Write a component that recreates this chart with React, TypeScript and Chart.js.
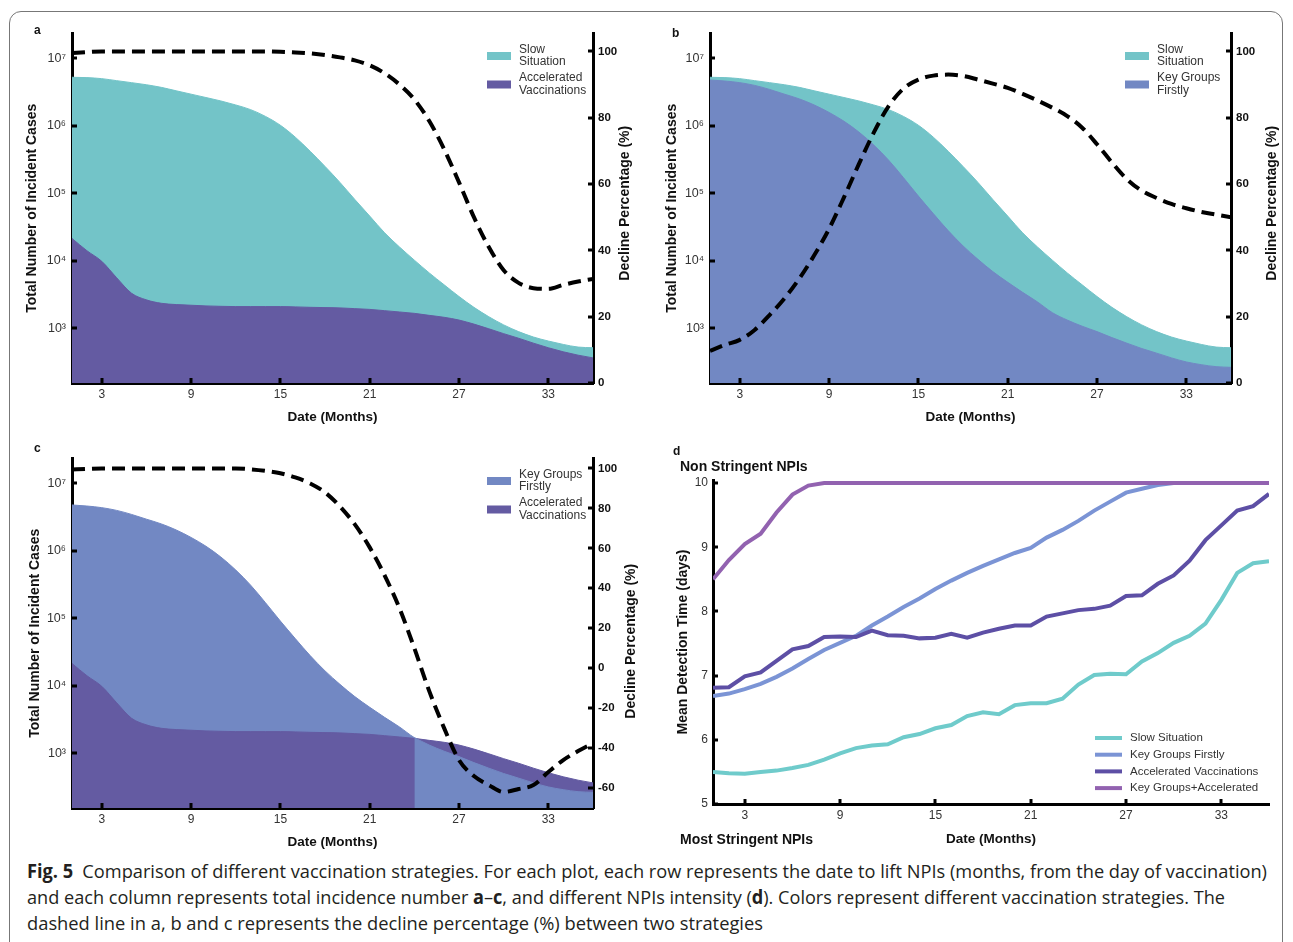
import React, { useEffect, useLayoutEffect, useRef } from 'react';
import { Chart, registerables } from 'chart.js';

Chart.register(...registerables);

const FONT = '"Liberation Sans", Arial, Helvetica, sans-serif';
Chart.defaults.font.family = FONT;

// ---------- data ----------
const months = [1, 2, 3, 4, 5, 6, 7, 8, 9, 10, 11, 12, 13, 14, 15, 16, 17, 18, 19, 20, 21, 22, 23, 24, 25, 26, 27, 28, 29, 30, 31, 32, 33, 34, 35, 36];

const slowCases = [5.25e6, 5.19e6, 5.01e6, 4.68e6, 4.37e6, 4.07e6, 3.72e6, 3.31e6, 2.95e6, 2.63e6, 2.34e6, 2.04e6, 1.74e6, 1.38e6, 1.02e6, 6.8e5, 4.2e5, 2.5e5, 1.45e5, 8.1e4, 4.6e4, 2.6e4, 1.6e4, 1.02e4, 6.6e3, 4.4e3, 2.95e3, 2.04e3, 1.48e3, 1.12e3, 890, 740, 645, 575, 525, 513];
const acceleratedCases = [2.14e4, 1.41e4, 9.8e3, 5.6e3, 3.3e3, 2.63e3, 2.34e3, 2.24e3, 2.19e3, 2.14e3, 2.11e3, 2.09e3, 2.09e3, 2.09e3, 2.09e3, 2.07e3, 2.04e3, 2.02e3, 2.0e3, 1.95e3, 1.9e3, 1.82e3, 1.74e3, 1.66e3, 1.55e3, 1.45e3, 1.32e3, 1.15e3, 980, 830, 710, 600, 513, 447, 398, 363];
const keyGroupsCases = [4.79e6, 4.62e6, 4.37e6, 3.98e6, 3.47e6, 2.95e6, 2.51e6, 2.04e6, 1.58e6, 1.17e6, 8.1e5, 5.2e5, 3.1e5, 1.7e5, 9.1e4, 5.0e4, 2.8e4, 1.66e4, 1.05e4, 6.9e3, 4.8e3, 3.4e3, 2.45e3, 1.7e3, 1.32e3, 1.07e3, 890, 725, 600, 500, 427, 363, 316, 288, 269, 263];

const declineA = [99.5, 99.8, 100, 100, 100, 100, 100, 100, 100, 100, 100, 100, 100, 100, 99.9, 99.7, 99.4, 98.9, 98.2, 97.3, 95.8, 93.4, 90, 85.5, 79, 70.5, 60.5, 50, 41, 34, 30.2, 28.6, 28.4, 29.6, 30.6, 31.4];
const declineB = [9.7, 11.5, 13, 16, 20.5, 25.5, 31.5, 38.5, 46.5, 56, 66, 75.5, 83.5, 88.8, 91.5, 92.7, 93, 92.6, 91.5, 90.3, 89, 87.2, 85.2, 83, 80.5, 77, 72, 66.5, 61.5, 58, 55.8, 54, 52.7, 51.6, 50.8, 50];
const declineC = [99.5, 99.8, 100, 100, 100, 100, 100, 100, 100, 100, 100, 100, 99.6, 98.8, 97.6, 95.5, 92.5, 88, 81, 72, 60.5, 46.5, 30, 10, -11.5, -30, -46, -54, -58.5, -62, -60.5, -58.5, -52, -46, -41.5, -37.5];

const detectSlow = [5.5, 5.48, 5.47, 5.5, 5.52, 5.56, 5.61, 5.69, 5.79, 5.87, 5.91, 5.93, 6.04, 6.09, 6.18, 6.23, 6.37, 6.43, 6.4, 6.54, 6.57, 6.57, 6.64, 6.86, 7.01, 7.03, 7.02, 7.22, 7.35, 7.51, 7.62, 7.81, 8.18, 8.6, 8.75, 8.78];
const detectKey = [6.68, 6.72, 6.79, 6.87, 6.98, 7.11, 7.26, 7.4, 7.51, 7.62, 7.78, 7.92, 8.07, 8.2, 8.35, 8.48, 8.6, 8.71, 8.81, 8.91, 8.99, 9.15, 9.27, 9.41, 9.57, 9.71, 9.85, 9.91, 9.97, 10, 10, 10, 10, 10, 10, 10];
const detectAcc = [6.81, 6.82, 6.99, 7.05, 7.23, 7.41, 7.46, 7.6, 7.61, 7.6, 7.7, 7.63, 7.62, 7.58, 7.59, 7.65, 7.59, 7.67, 7.73, 7.78, 7.78, 7.92, 7.97, 8.02, 8.04, 8.09, 8.24, 8.25, 8.43, 8.56, 8.79, 9.11, 9.34, 9.57, 9.64, 9.83];
const detectKeyAcc = [8.5, 8.8, 9.05, 9.21, 9.54, 9.82, 9.96, 10, 10, 10, 10, 10, 10, 10, 10, 10, 10, 10, 10, 10, 10, 10, 10, 10, 10, 10, 10, 10, 10, 10, 10, 10, 10, 10, 10, 10];

const monthTicks = [3, 9, 15, 21, 27, 33];
const logTicks = [1e3, 1e4, 1e5, 1e6, 1e7];
const logTickLabels = ['10³', '10⁴', '10⁵', '10⁶', '10⁷'];
const declineTicksAB = [0, 20, 40, 60, 80, 100];
const declineTicksC = [-60, -40, -20, 0, 20, 40, 60, 80, 100];
const detectTicks = [5, 6, 7, 8, 9, 10];

const LABEL_SLOW = 'Slow Situation';
const LABEL_KEY = 'Key Groups Firstly';
const LABEL_ACC = 'Accelerated Vaccinations';
const LABEL_KEYACC = 'Key Groups+Accelerated';
const TITLE_DECLINE = 'Decline Percentage (%)';

const C_TEAL = '#73c4c8';
const C_PURPLE = '#645ba2';
const C_BLUE = '#7288c3';
const L_TEAL = '#6fcbcb';
const L_BLUE = '#7b94d5';
const L_PURPLE = '#5d4fa5';
const L_PINK = '#9262b0';

// ---------- plugins ----------
const inwardTicks = {
  id: 'inwardTicks',
  afterDraw(chart: any) {
    const { ctx, chartArea: ca } = chart;
    ctx.save();
    ctx.strokeStyle = '#000';
    ctx.lineWidth = 3;
    for (const s of Object.values(chart.scales) as any[]) {
      for (const t of s.ticks) {
        const p = Math.round(s.getPixelForValue(t.value));
        ctx.beginPath();
        if (s.position === 'left') { ctx.moveTo(ca.left, p); ctx.lineTo(ca.left + 5, p); }
        else if (s.position === 'right') { ctx.moveTo(ca.right, p); ctx.lineTo(ca.right - 5, p); }
        else { ctx.moveTo(p, ca.bottom); ctx.lineTo(p, ca.bottom - 5); }
        ctx.stroke();
      }
    }
    ctx.restore();
  },
};

function rightTitle(text: string, cx: number, dy: number) {
  return {
    id: 'rightTitle',
    afterDraw(chart: any) {
      const { ctx, chartArea: ca } = chart;
      ctx.save();
      ctx.translate(cx, (ca.top + ca.bottom) / 2 + dy);
      ctx.rotate(-Math.PI / 2);
      ctx.font = `bold 14px ${FONT}`;
      ctx.fillStyle = '#111';
      ctx.textAlign = 'center';
      ctx.textBaseline = 'middle';
      ctx.fillText(text, 0, 0);
      ctx.restore();
    },
  };
}

function splitLabel(s: string): string[] {
  const i = s.lastIndexOf(' ');
  return [s.slice(0, i), s.slice(i + 1)];
}

function areaLegend(items: { label: string; color: string }[]) {
  return {
    id: 'areaLegend',
    afterDraw(chart: any) {
      const { ctx, chartArea: ca } = chart;
      ctx.save();
      ctx.font = `12px ${FONT}`;
      ctx.textBaseline = 'middle';
      ctx.textAlign = 'left';
      items.forEach((it, i) => {
        const cy = ca.top + 22.5 + i * 28.5;
        const x0 = ca.right - 106;
        ctx.fillStyle = it.color;
        ctx.fillRect(x0, cy - 4, 24, 8);
        ctx.fillStyle = '#333';
        splitLabel(it.label).forEach((ln, k) => ctx.fillText(ln, x0 + 32, cy - 6.5 + k * 12.5));
      });
      ctx.restore();
    },
  };
}

function lineLegend(items: { label: string; color: string }[]) {
  return {
    id: 'lineLegend',
    afterDraw(chart: any) {
      const { ctx, chartArea: ca } = chart;
      ctx.save();
      ctx.font = `11.5px ${FONT}`;
      ctx.textBaseline = 'middle';
      ctx.textAlign = 'left';
      items.forEach((it, i) => {
        const cy = ca.bottom - 66 + i * 16.7;
        ctx.strokeStyle = it.color;
        ctx.lineWidth = 4;
        ctx.beginPath();
        ctx.moveTo(ca.right - 174, cy);
        ctx.lineTo(ca.right - 147, cy);
        ctx.stroke();
        ctx.fillStyle = '#333';
        ctx.fillText(it.label, ca.right - 139, cy);
      });
      ctx.restore();
    },
  };
}

// ---------- builders ----------
type Area = { label: string; values: number[]; color: string; from?: number };
type CasesPanel = {
  areas: Area[]; // front to back
  legend: { label: string; color: string }[];
  decline: number[];
  declineTicks: number[];
  declineMin: number;
  declineMax: number;
  leftW: number;
  rightW: number;
  topPad: number;
  bottomH: number;
  leftTitlePad: number;
  rightTitleX: number;
  rightTitleDy: number;
  bottomTitlePad: number;
};

const pts = (vals: number[]) => months.map((m, i) => ({ x: m, y: vals[i] }));

const noGrid = { display: false, drawTicks: false, drawOnChartArea: false };

function xScale(bottomH: number, titlePad: number) {
  return {
    type: 'linear',
    position: 'bottom',
    min: 1,
    max: 36,
    afterBuildTicks: (s: any) => { s.ticks = monthTicks.map((v) => ({ value: v })); },
    afterFit: (s: any) => { s.height = bottomH; },
    grid: noGrid,
    border: { display: true, color: '#000', width: 3 },
    ticks: { color: '#333', font: { size: 12 }, padding: 4, maxRotation: 0, autoSkip: false, callback: (v: any) => String(v) },
    title: { display: true, text: 'Date (Months)', color: '#111', font: { size: 13.5, weight: 'bold' }, padding: { top: 0, bottom: titlePad } },
  };
}

function buildCases(canvas: HTMLCanvasElement, p: CasesPanel) {
  const datasets: any[] = [
    {
      label: TITLE_DECLINE, data: pts(p.decline), yAxisID: 'y1',
      borderColor: '#000', borderWidth: 4, borderDash: [13, 7], pointRadius: 0,
      fill: false, cubicInterpolationMode: 'monotone', order: 0,
    },
  ];
  p.areas.forEach((a, k) => {
    datasets.push({
      label: a.label,
      data: a.from ? months.map((m, i) => ({ x: m, y: m >= (a.from as number) ? a.values[i] : null })) : pts(a.values),
      yAxisID: 'y', backgroundColor: a.color, borderColor: a.color, borderWidth: 1,
      pointRadius: 0, fill: 'start', cubicInterpolationMode: 'monotone', spanGaps: false, order: k + 1,
    });
  });
  return new Chart(canvas, {
    type: 'line',
    data: { datasets },
    options: {
      responsive: false, animation: false, devicePixelRatio: 1, events: [],
      layout: { padding: { top: p.topPad, left: 0, right: 0, bottom: 0 } },
      plugins: { legend: { display: false }, tooltip: { enabled: false } },
      scales: {
        x: xScale(p.bottomH, p.bottomTitlePad) as any,
        y: {
          type: 'logarithmic', position: 'left', min: 154, max: 2.34e7,
          afterBuildTicks: (s: any) => { s.ticks = logTicks.map((v) => ({ value: v })); },
          afterFit: (s: any) => { s.width = p.leftW; },
          grid: noGrid,
          border: { display: true, color: '#000', width: 3 },
          ticks: { color: '#333', font: { size: 12.5 }, padding: 6, callback: (v: any) => logTickLabels[logTicks.indexOf(Number(v))] ?? '' },
          title: { display: true, text: 'Total Number of Incident Cases', color: '#111', font: { size: 14, weight: 'bold' }, padding: { top: p.leftTitlePad, bottom: 0 } },
        },
        y1: {
          type: 'linear', position: 'right', min: p.declineMin, max: p.declineMax,
          afterBuildTicks: (s: any) => { s.ticks = p.declineTicks.map((v) => ({ value: v })); },
          afterFit: (s: any) => { s.width = p.rightW; },
          grid: noGrid,
          border: { display: true, color: '#000', width: 3 },
          ticks: { color: '#111', font: { size: 11.5, weight: 'bold' }, padding: 5, callback: (v: any) => String(v) },
          title: { display: false },
        },
      } as any,
    },
    plugins: [inwardTicks, areaLegend(p.legend), rightTitle(TITLE_DECLINE, p.rightTitleX, p.rightTitleDy)],
  } as any);
}

function buildDetection(canvas: HTMLCanvasElement) {
  const series = [
    { label: LABEL_SLOW, values: detectSlow, color: L_TEAL },
    { label: LABEL_KEY, values: detectKey, color: L_BLUE },
    { label: LABEL_ACC, values: detectAcc, color: L_PURPLE },
    { label: LABEL_KEYACC, values: detectKeyAcc, color: L_PINK },
  ];
  const datasets = series.map((s, i) => ({
    label: s.label, data: pts(s.values), borderColor: s.color, backgroundColor: s.color,
    borderWidth: 4, pointRadius: 0, fill: false, tension: 0, order: series.length - i,
  }));
  return new Chart(canvas, {
    type: 'line',
    data: { datasets },
    options: {
      responsive: false, animation: false, devicePixelRatio: 1, events: [],
      layout: { padding: { top: 40, left: 0, right: 11, bottom: 0 } },
      plugins: { legend: { display: false }, tooltip: { enabled: false } },
      scales: {
        x: xScale(51, 7.5) as any,
        y: {
          type: 'linear', position: 'left', min: 5, max: 10.047,
          afterBuildTicks: (s: any) => { s.ticks = detectTicks.map((v) => ({ value: v })); },
          afterFit: (s: any) => { s.width = 53; },
          grid: noGrid,
          border: { display: true, color: '#000', width: 3 },
          ticks: { color: '#333', font: { size: 12 }, padding: 5, callback: (v: any) => String(v) },
          title: { display: true, text: 'Mean Detection Time (days)', color: '#111', font: { size: 14, weight: 'bold' }, padding: { top: 14.5, bottom: 0 } },
        },
      } as any,
    },
    plugins: [inwardTicks, lineLegend(series)],
  } as any);
}

// ---------- components ----------
type Box = { left: number; top: number; width: number; height: number };

function ChartCanvas({ box, build }: { box: Box; build: (c: HTMLCanvasElement) => Chart }) {
  const ref = useRef<HTMLCanvasElement>(null);
  useEffect(() => {
    const ch = build(ref.current as HTMLCanvasElement);
    return () => ch.destroy();
  }, []);
  return (
    <canvas
      ref={ref}
      width={box.width}
      height={box.height}
      style={{ position: 'absolute', left: box.left, top: box.top, width: box.width, height: box.height }}
    />
  );
}

function Label({ x, y, text, size, bold }: { x: number; y: number; text: string; size: number; bold?: boolean }) {
  return (
    <div
      style={{
        position: 'absolute', left: x, top: y, transform: 'translateY(-50%)', fontFamily: FONT,
        fontSize: size, fontWeight: bold ? 700 : 400, lineHeight: 1, whiteSpace: 'nowrap', color: '#111',
      }}
    >
      {text}
    </div>
  );
}

const captionLines: { t: string; b?: boolean }[][] = [
  [{ t: 'Fig. 5', b: true }, { t: '\u2002Comparison of different vaccination strategies. For each plot, each row represents the date to lift NPIs (months, from the day of vaccination)' }],
  [{ t: 'and each column represents total incidence number ' }, { t: 'a', b: true }, { t: '–' }, { t: 'c', b: true }, { t: ', and different NPIs intensity (' }, { t: 'd', b: true }, { t: '). Colors represent different vaccination strategies. The' }],
  [{ t: 'dashed line in a, b and c represents the decline percentage (%) between two strategies' }],
];
const captionWidths = [1240, 1198, 736];
const captionY = [871, 897, 923];

export default function App() {
  const capRefs = useRef<(HTMLSpanElement | null)[]>([]);
  useLayoutEffect(() => {
    capRefs.current.forEach((el, i) => {
      if (!el) return;
      el.style.transform = 'none';
      const w = el.getBoundingClientRect().width;
      if (w > 0) el.style.transform = `scaleX(${captionWidths[i] / w})`;
    });
  }, []);

  const panelA: CasesPanel = {
    areas: [
      { label: LABEL_ACC, values: acceleratedCases, color: C_PURPLE },
      { label: LABEL_SLOW, values: slowCases, color: C_TEAL },
    ],
    legend: [{ label: LABEL_SLOW, color: C_TEAL }, { label: LABEL_ACC, color: C_PURPLE }],
    decline: declineA, declineTicks: declineTicksAB, declineMin: 0, declineMax: 105.4,
    leftW: 52, rightW: 47, topPad: 12, bottomH: 47, leftTitlePad: 4, rightTitleX: 605, rightTitleDy: -5, bottomTitlePad: 5,
  };
  const panelB: CasesPanel = {
    areas: [
      { label: LABEL_KEY, values: keyGroupsCases, color: C_BLUE },
      { label: LABEL_SLOW, values: slowCases, color: C_TEAL },
    ],
    legend: [{ label: LABEL_SLOW, color: C_TEAL }, { label: LABEL_KEY, color: C_BLUE }],
    decline: declineB, declineTicks: declineTicksAB, declineMin: 0, declineMax: 105.4,
    leftW: 52, rightW: 52, topPad: 12, bottomH: 47, leftTitlePad: 5.5, rightTitleX: 614, rightTitleDy: -5, bottomTitlePad: 5,
  };
  const panelC: CasesPanel = {
    areas: [
      { label: LABEL_KEY, values: keyGroupsCases, color: C_BLUE, from: 24 },
      { label: LABEL_ACC, values: acceleratedCases, color: C_PURPLE },
      { label: LABEL_KEY, values: keyGroupsCases, color: C_BLUE },
    ],
    legend: [{ label: LABEL_KEY, color: C_BLUE }, { label: LABEL_ACC, color: C_PURPLE }],
    decline: declineC, declineTicks: declineTicksC, declineMin: -70, declineMax: 105,
    leftW: 52, rightW: 52, topPad: 12, bottomH: 47, leftTitlePad: 6.5, rightTitleX: 611, rightTitleDy: 8, bottomTitlePad: 5,
  };

  return (
    <div style={{ position: 'relative', width: 1293, height: 942, overflow: 'hidden', background: '#fff' }}>
      <style>{'html,body{margin:0;padding:0;overflow:hidden;background:#fff}'}</style>
      <div
        style={{
          position: 'absolute', left: 9, top: 11, width: 1274, height: 1000,
          border: '1px solid #777', borderRadius: 12, boxSizing: 'border-box',
        }}
      />
      <ChartCanvas box={{ left: 20, top: 20, width: 620, height: 410 }} build={(c) => buildCases(c, panelA)} />
      <ChartCanvas box={{ left: 658, top: 20, width: 625, height: 410 }} build={(c) => buildCases(c, panelB)} />
      <ChartCanvas box={{ left: 20, top: 445, width: 625, height: 410 }} build={(c) => buildCases(c, panelC)} />
      <ChartCanvas box={{ left: 660, top: 440, width: 620, height: 415 }} build={(c) => buildDetection(c)} />

      <Label x={34} y={30} text="a" size={12} bold />
      <Label x={672} y={33} text="b" size={12} bold />
      <Label x={34} y={448} text="c" size={12} bold />
      <Label x={673} y={451} text="d" size={12} bold />
      <Label x={680} y={466} text="Non Stringent NPIs" size={14} bold />
      <Label x={680} y={839} text="Most Stringent NPIs" size={14} bold />

      {captionLines.map((line, i) => (
        <span
          key={i}
          ref={(el) => { capRefs.current[i] = el; }}
          style={{
            position: 'absolute', left: 27, top: captionY[i] - 13, height: 26, lineHeight: '26px',
            fontFamily: '"Open Sans", "Noto Sans", sans-serif', fontSize: 19, color: '#231f20',
            whiteSpace: 'nowrap', transformOrigin: '0 50%', display: 'inline-block',
          }}
        >
          {line.map((seg, k) => (
            <span key={k} style={{ fontWeight: seg.b ? 700 : 400 }}>{seg.t}</span>
          ))}
        </span>
      ))}
    </div>
  );
}
